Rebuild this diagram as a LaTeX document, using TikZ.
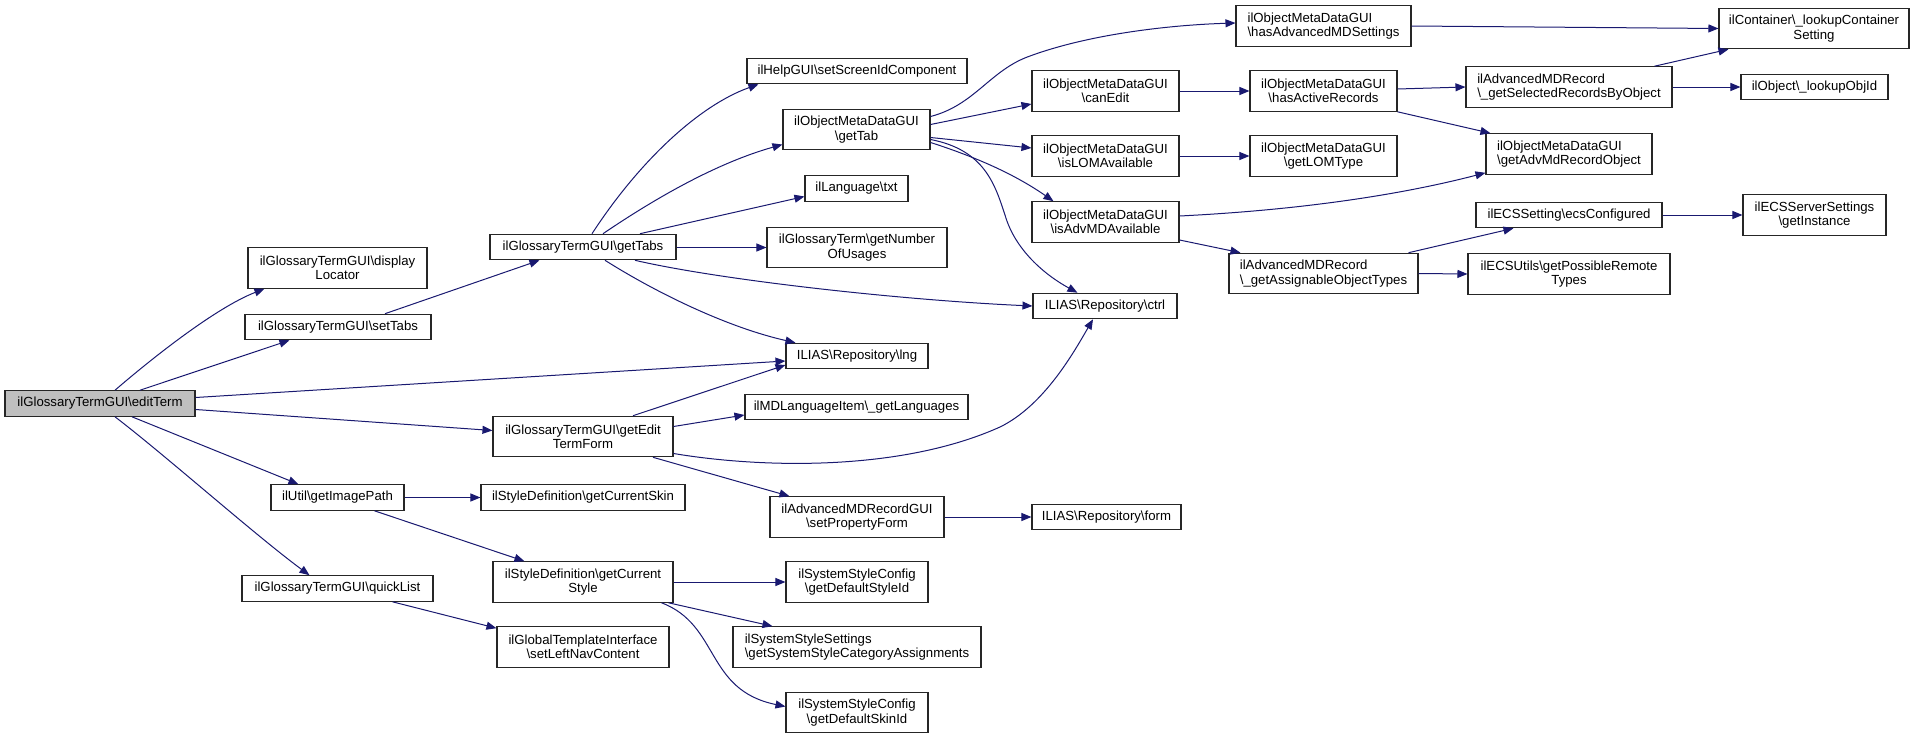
\documentclass[tikz,border=0pt]{standalone}
\usepackage{fontspec}
\setmainfont{Liberation Sans}
\usetikzlibrary{arrows.meta,calc}
\definecolor{edgeblue}{RGB}{25,25,112}
\definecolor{rootgray}{RGB}{191,191,191}
\tikzset{
  box/.style={draw=black!85, fill=white, line width=0.55pt, inner sep=0pt, align=center,
    font=\fontsize{6.6pt}{7.2pt}\selectfont},
  boxl/.style={box, align=left},
  one/.style={minimum height=12.75pt},
  two/.style={minimum height=20.25pt},
  call/.style={draw=edgeblue, line width=0.5pt, -{Triangle[length=5pt,width=4pt]}, fill=none},
}
\newcommand{\bs}{\textbackslash}
\begin{document}
\begin{tikzpicture}[x=0.5pt,y=-0.5pt]
\useasboundingbox (0,0) rectangle (1915,739);
% nodes
\node[box,one,minimum width=95pt,fill=rootgray] (editTerm) at (100,403.5) {ilGlossaryTermGUI\bs editTerm};
\node[box,two,minimum width=89.5pt] (displayLocator) at (337.5,268) {ilGlossaryTermGUI\bs display\\Locator};
\node[box,one,minimum width=93pt] (setTabs) at (338,327) {ilGlossaryTermGUI\bs setTabs};
\node[box,one,minimum width=93pt] (getTabs) at (583,247) {ilGlossaryTermGUI\bs getTabs};
\node[box,two,minimum width=90pt] (getEditTermForm) at (583,436.5) {ilGlossaryTermGUI\bs getEdit\\TermForm};
\node[box,one,minimum width=66.5pt] (getImagePath) at (337.5,497.5) {ilUtil\bs getImagePath};
\node[box,one,minimum width=95.5pt] (quickList) at (337.5,588.5) {ilGlossaryTermGUI\bs quickList};
\node[box,one,minimum width=110pt] (setScreenIdComponent) at (857,71) {ilHelpGUI\bs setScreenIdComponent};
\node[box,two,minimum width=73.5pt] (getTab) at (856.5,129.5) {ilObjectMetaDataGUI\\\bs getTab};
\node[box,one,minimum width=51.5pt] (txt) at (856.5,188.5) {ilLanguage\bs txt};
\node[box,two,minimum width=90pt] (getNumberOfUsages) at (857,247.5) {ilGlossaryTerm\bs getNumber\\OfUsages};
\node[box,one,minimum width=71pt] (lng) at (857,356) {ILIAS\bs Repository\bs lng};
\node[box,one,minimum width=111.5pt] (getLanguages) at (856.5,407) {ilMDLanguageItem\bs\_getLanguages};
\node[box,two,minimum width=87pt] (setPropertyForm) at (857,517) {ilAdvancedMDRecordGUI\\\bs setPropertyForm};
\node[box,one,minimum width=102pt] (getCurrentSkin) at (583,497.5) {ilStyleDefinition\bs getCurrentSkin};
\node[box,two,minimum width=90pt] (getCurrentStyle) at (583,582) {ilStyleDefinition\bs getCurrent\\Style};
\node[box,two,minimum width=86pt] (setLeftNavContent) at (583,647) {ilGlobalTemplateInterface\\\bs setLeftNavContent};
\node[box,two,minimum width=71pt] (getDefaultStyleId) at (857,582) {ilSystemStyleConfig\\\bs getDefaultStyleId};
\node[boxl,two,minimum width=124pt] (getSystemStyleCategoryAssignments) at (857,647) {ilSystemStyleSettings\\\bs getSystemStyleCategoryAssignments};
\node[box,two,minimum width=71pt] (getDefaultSkinId) at (857,712.5) {ilSystemStyleConfig\\\bs getDefaultSkinId};
\node[box,one,minimum width=74.5pt] (form) at (1106.5,517) {ILIAS\bs Repository\bs form};
\node[box,one,minimum width=72pt] (ctrl) at (1105,306) {ILIAS\bs Repository\bs ctrl};
\node[box,two,minimum width=73.5pt] (canEdit) at (1105.5,91) {ilObjectMetaDataGUI\\\bs canEdit};
\node[box,two,minimum width=73.5pt] (isLOMAvailable) at (1105.5,156) {ilObjectMetaDataGUI\\\bs isLOMAvailable};
\node[box,two,minimum width=73.5pt] (isAdvMDAvailable) at (1105.5,222) {ilObjectMetaDataGUI\\\bs isAdvMDAvailable};
\node[boxl,two,minimum width=87.5pt] (hasAdvancedMDSettings) at (1323.5,26) {ilObjectMetaDataGUI\\\bs hasAdvancedMDSettings};
\node[box,two,minimum width=73.5pt] (hasActiveRecords) at (1323.5,91) {ilObjectMetaDataGUI\\\bs hasActiveRecords};
\node[box,two,minimum width=73.5pt] (getLOMType) at (1323.5,156) {ilObjectMetaDataGUI\\\bs getLOMType};
\node[boxl,two,minimum width=94.5pt] (getAssignableObjectTypes) at (1323.5,273.5) {ilAdvancedMDRecord\\\bs\_getAssignableObjectTypes};
\node[boxl,two,minimum width=103pt] (getSelectedRecordsByObject) at (1569,87) {ilAdvancedMDRecord\\\bs\_getSelectedRecordsByObject};
\node[boxl,two,minimum width=83pt] (getAdvMdRecordObject) at (1569,154) {ilObjectMetaDataGUI\\\bs getAdvMdRecordObject};
\node[box,one,minimum width=93pt] (ecsConfigured) at (1569,215) {ilECSSetting\bs ecsConfigured};
\node[box,two,minimum width=101pt] (getPossibleRemoteTypes) at (1569,274) {ilECSUtils\bs getPossibleRemote\\Types};
\node[box,two,minimum width=95pt] (lookupContainerSetting) at (1814,28.5) {ilContainer\bs\_lookupContainer\\Setting};
\node[box,one,minimum width=73.5pt] (lookupObjId) at (1814.5,87) {ilObject\bs\_lookupObjId};
\node[box,two,minimum width=71.5pt] (ECSServerSettings) at (1814.5,215) {ilECSServerSettings\\\bs getInstance};
% edges
\draw[call] ($(editTerm.north)+(15,0)$) .. controls (150,360) and (215,308) .. ($(displayLocator.south west)+(17,0)$);
\draw[call] ($(editTerm.north)+(40,0)$) -- ($(setTabs.south west)+(45,0)$);
\draw[call] ($(editTerm.east)+(0,-6)$) -- ($(lng.west)+(0,5)$);
\draw[call] ($(editTerm.east)+(0,6)$) -- ($(getEditTermForm.west)+(0,-6)$);
\draw[call] ($(editTerm.south)+(32,0)$) -- ($(getImagePath.north west)+(28,0)$);
\draw[call] ($(editTerm.south)+(15,0)$) .. controls (165,455) and (255,535) .. ($(quickList.north west)+(68,0)$);
\draw[call] ($(setTabs.north)+(47,0)$) -- ($(getTabs.south west)+(50,0)$);
\draw[call] ($(getTabs.north)+(9,0)$) .. controls (640,160) and (700,105) .. ($(setScreenIdComponent.south west)+(12,0)$);
\draw[call] ($(getTabs.north)+(20,0)$) .. controls (660,195) and (720,162) .. ($(getTab.west)+(0,15)$);
\draw[call] ($(getTabs.north)+(57,0)$) -- ($(txt.west)+(0,8)$);
\draw[call] ($(getTabs.east)+(0,0.5)$) -- ($(getNumberOfUsages.west)+(0,0)$);
\draw[call] ($(getTabs.south)+(52,0)$) .. controls (720,280) and (900,300) .. (ctrl.west);
\draw[call] ($(getTabs.south)+(22,0)$) .. controls (660,295) and (730,328) .. ($(lng.north west)+(10,0)$);
\draw[call] ($(getEditTermForm.north)+(50,0)$) -- ($(lng.west)+(0,9)$);
\draw[call] ($(getEditTermForm.east)+(0,-10)$) -- ($(getLanguages.west)+(0,8)$);
\draw[call] ($(getEditTermForm.east)+(0,17)$) .. controls (760,468) and (900,472) .. (1000,427) .. controls (1045,405) and (1075,350) .. ($(ctrl.south)+(-12,0)$);
\draw[call] ($(getEditTermForm.south)+(70,0)$) -- ($(setPropertyForm.north west)+(20,0)$);
\draw[call] (getImagePath.east) -- (getCurrentSkin.west);
\draw[call] ($(getImagePath.south)+(37,0)$) -- ($(getCurrentStyle.north west)+(32,0)$);
\draw[call] ($(quickList.south)+(55,0)$) -- ($(setLeftNavContent.north west)+(0,2)$);
\draw[call] (getCurrentStyle.east) -- (getDefaultStyleId.west);
\draw[call] ($(getCurrentStyle.south east)+(-5,0)$) -- ($(getSystemStyleCategoryAssignments.north west)+(40,0)$);
\draw[call] ($(getCurrentStyle.south east)+(-12,0)$) .. controls (720,625) and (705,690) .. ($(getDefaultSkinId.west)+(0,-6)$);
\draw[call] (setPropertyForm.east) -- (form.west);
\draw[call] ($(getTab.east)+(0,-13)$) .. controls (975,105) and (990,70) .. (1030,56) .. controls (1090,34) and (1170,25) .. ($(hasAdvancedMDSettings.west)+(0,-3)$);
\draw[call] ($(getTab.east)+(0,-5)$) -- ($(canEdit.west)+(0,13)$);
\draw[call] ($(getTab.east)+(0,8)$) -- ($(isLOMAvailable.west)+(0,-8)$);
\draw[call] ($(getTab.east)+(0,13)$) .. controls (985,160) and (1020,178) .. ($(isAdvMDAvailable.north west)+(22,0)$);
\draw[call] ($(getTab.east)+(0,10)$) .. controls (985,150) and (995,185) .. (1005,215) .. controls (1015,250) and (1045,275) .. ($(ctrl.north west)+(45,0)$);
\draw[call] (canEdit.east) -- (hasActiveRecords.west);
\draw[call] (isLOMAvailable.east) -- (getLOMType.west);
\draw[call] ($(isAdvMDAvailable.east)+(0,-6)$) .. controls (1300,210) and (1400,195) .. ($(getAdvMdRecordObject.south west)+(0,-2)$);
\draw[call] ($(isAdvMDAvailable.east)+(0,18)$) -- ($(getAssignableObjectTypes.north west)+(12,0)$);
\draw[call] (hasAdvancedMDSettings.east) -- (lookupContainerSetting.west);
\draw[call] ($(hasActiveRecords.east)+(0,-2)$) -- (getSelectedRecordsByObject.west);
\draw[call] (hasActiveRecords.south east) -- ($(getAdvMdRecordObject.north west)+(5,0)$);
\draw[call] ($(getSelectedRecordsByObject.north east)+(-18,0)$) -- ($(lookupContainerSetting.south west)+(10,0)$);
\draw[call] (getSelectedRecordsByObject.east) -- (lookupObjId.west);
\draw[call] ($(getAssignableObjectTypes.north east)+(-10,0)$) -- ($(ecsConfigured.south west)+(38,0)$);
\draw[call] (getAssignableObjectTypes.east) -- (getPossibleRemoteTypes.west);
\draw[call] (ecsConfigured.east) -- (ECSServerSettings.west);
\end{tikzpicture}
\end{document}
